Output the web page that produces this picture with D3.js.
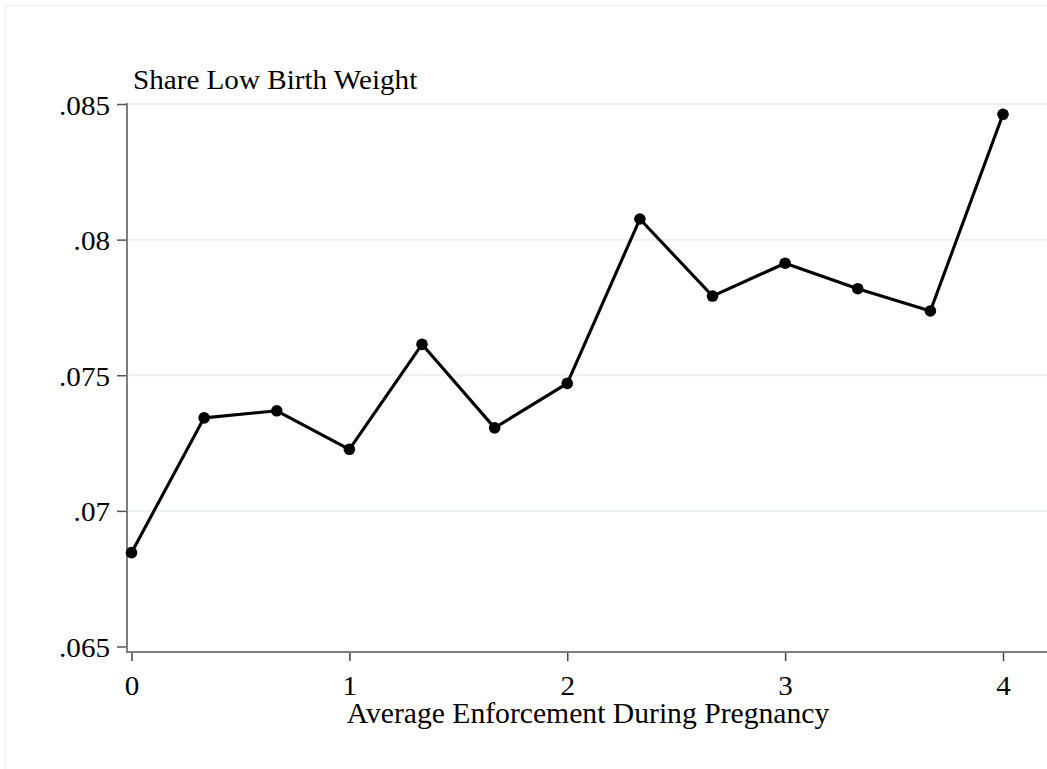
<!DOCTYPE html>
<html>
<head>
<meta charset="utf-8">
<script src="https://cdn.jsdelivr.net/npm/d3@7"></script>
<style>
  html, body { margin: 0; padding: 0; background: #ffffff; }
  svg { display: block; }
  text { font-family: "Liberation Serif", "Times New Roman", serif; fill: #000; }
</style>
</head>
<body>
<svg id="chart" width="1047" height="769"></svg>
<script>
// ---- data ----
const enforcement = [0, 1/3, 2/3, 1, 4/3, 5/3, 2, 7/3, 8/3, 3, 10/3, 11/3, 4];
const shareLowBirthWeight = [0.06846, 0.07343, 0.07369, 0.07227, 0.07614, 0.07306, 0.07470,
                             0.08076, 0.07792, 0.07913, 0.07819, 0.07737, 0.08462];
const yTickValues = [0.065, 0.07, 0.075, 0.08, 0.085];
const yTickLabels = [".065", ".07", ".075", ".08", ".085"];
const xTickValues = [0, 1, 2, 3, 4];
const xTickLabels = ["0", "1", "2", "3", "4"];
const yTitle = "Share Low Birth Weight";
const xTitle = "Average Enforcement During Pregnancy";

// ---- layout ----
const W = 1047, H = 769;
const stretch = 1.04;   // slight horizontal text stretch seen in reference
const fontSize = 28;

const svg = d3.select("#chart");

// faint outer frame
svg.append("rect")
  .attr("x", 5.5).attr("y", 5.5)
  .attr("width", W + 20).attr("height", H + 20)
  .attr("fill", "none").attr("stroke", "#edf2f4").attr("stroke-width", 1.5);

const x = d3.scaleLinear().domain([0, 4]).range([131.5, 1003]);
const y = d3.scaleLinear().domain([0.065, 0.085]).range([646.5, 104]);

const axisLeftX = 127, axisBottomY = 652;

function stretchText(sel) {
  sel.each(function () {
    const len = this.getComputedTextLength();
    d3.select(this).attr("textLength", len * stretch).attr("lengthAdjust", "spacingAndGlyphs");
  });
}

// grid lines
svg.append("g").selectAll("line")
  .data(yTickValues.filter(v => v > 0.065))
  .join("line")
  .attr("x1", axisLeftX).attr("x2", W)
  .attr("y1", d => y(d)).attr("y2", d => y(d))
  .attr("stroke", "#eaf2f2").attr("stroke-width", 2);

// y axis
const yAxis = svg.append("g")
  .attr("transform", `translate(${axisLeftX},0)`)
  .call(d3.axisLeft(y).tickValues(yTickValues)
    .tickFormat((d, i) => yTickLabels[i]).tickSize(10).tickPadding(7));
yAxis.select(".domain").remove();
yAxis.selectAll(".tick line").attr("stroke", "#555").attr("stroke-width", 1.5);
yAxis.selectAll(".tick text")
  .attr("font-size", fontSize)
  .attr("font-family", "Liberation Serif")
  .attr("fill", "#000")
  .attr("dy", "0.36em")
  .call(stretchText);
svg.append("line")
  .attr("x1", axisLeftX).attr("x2", axisLeftX)
  .attr("y1", y(0.085) - 1).attr("y2", axisBottomY + 1)
  .attr("stroke", "#7d7d7d").attr("stroke-width", 2);

// x axis
const xAxis = svg.append("g")
  .attr("transform", `translate(0,${axisBottomY})`)
  .call(d3.axisBottom(x).tickValues(xTickValues)
    .tickFormat((d, i) => xTickLabels[i]).tickSize(9).tickPadding(14));
xAxis.select(".domain").remove();
xAxis.selectAll(".tick line").attr("stroke", "#444").attr("stroke-width", 1.5);
xAxis.selectAll(".tick text")
  .attr("font-size", fontSize)
  .attr("font-family", "Liberation Serif")
  .attr("fill", "#000")
  .call(stretchText);
svg.append("line")
  .attr("x1", axisLeftX - 1).attr("x2", W)
  .attr("y1", axisBottomY).attr("y2", axisBottomY)
  .attr("stroke", "#7d7d7d").attr("stroke-width", 2);

// titles
svg.append("text")
  .attr("x", 133).attr("y", 89)
  .attr("font-size", fontSize)
  .text(yTitle)
  .call(stretchText);

svg.append("text")
  .attr("x", 588).attr("y", 723)
  .attr("text-anchor", "middle")
  .attr("font-size", fontSize + 0.5)
  .text(xTitle)
  .call(stretchText);

// line + markers
const pts = enforcement.map((e, i) => [e, shareLowBirthWeight[i]]);
svg.append("path")
  .datum(pts)
  .attr("fill", "none")
  .attr("stroke", "#000")
  .attr("stroke-width", 3.1)
  .attr("stroke-linejoin", "round")
  .attr("d", d3.line().x(d => x(d[0])).y(d => y(d[1])));

svg.append("g").selectAll("circle")
  .data(pts)
  .join("circle")
  .attr("cx", d => x(d[0])).attr("cy", d => y(d[1]))
  .attr("r", 5.8)
  .attr("fill", "#000");
</script>
</body>
</html>
